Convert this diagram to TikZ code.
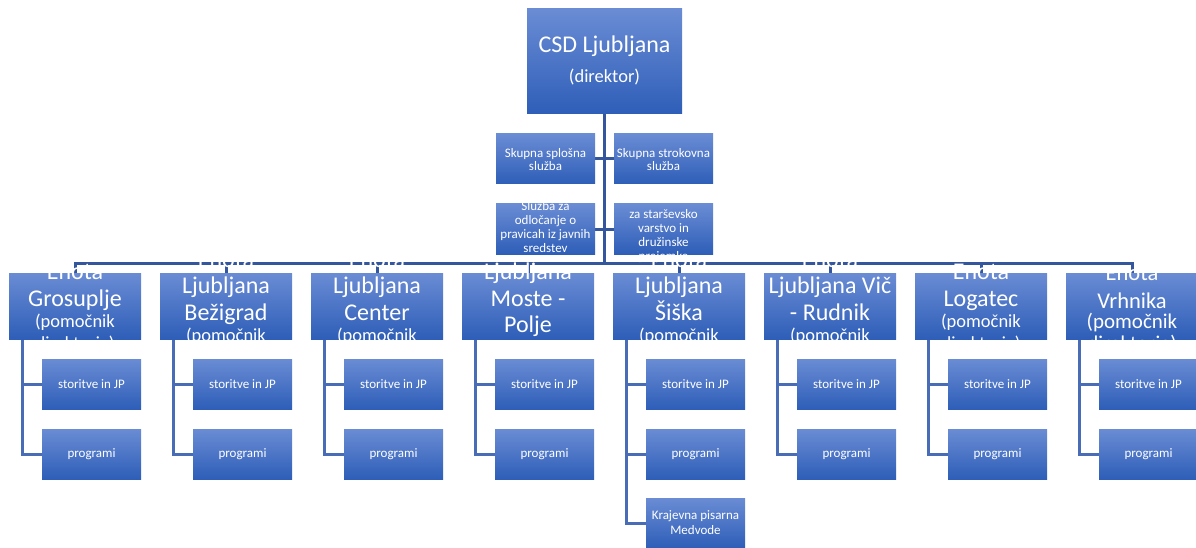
\documentclass[tikz,border=0pt]{standalone}
\usepackage{fontspec}
\setmainfont{Carlito}
\usetikzlibrary{backgrounds}

\definecolor{boxtop}{RGB}{106,140,212}
\definecolor{boxbot}{RGB}{46,94,184}
\definecolor{busblue}{RGB}{52,86,156}
\definecolor{subblue}{RGB}{72,108,182}

\newcommand{\pom}{\fontsize{18.5}{21}\selectfont}
\newcommand{\bigpom}{\fontsize{21}{24}\selectfont}

\begin{document}
\begin{tikzpicture}[x=1pt,y=-1pt,
    orgbox/.style={inner sep=0pt,top color=boxtop,bottom color=boxbot},
    topbox/.style={orgbox,minimum width=155pt,minimum height=105pt},
    staffbox/.style={orgbox,minimum width=99pt,minimum height=50pt},
    unitbox/.style={orgbox,minimum width=132pt,minimum height=66pt},
    subbox/.style={orgbox,minimum width=99pt,minimum height=50pt,text=white,align=center,
      font=\fontsize{13}{15}\selectfont},
    boxtext/.style={text=white,align=center,inner sep=0pt,anchor=base},
    toptext/.style={boxtext,font=\fontsize{24}{29}\selectfont},
    stafftext/.style={boxtext,font=\fontsize{13}{13.3}\selectfont},
    staffwrap/.style={boxtext,font=\fontsize{13}{14}\selectfont},
    unittext/.style={boxtext,font=\fontsize{24}{26.5}\selectfont},
    bigunittext/.style={boxtext,font=\fontsize{22.5}{28}\selectfont},
    busline/.style={draw=busblue,line width=3pt},
    subline/.style={draw=subblue,line width=3pt}]
  \useasboundingbox (0,0) rectangle (1196,548);

  % director
  \node[topbox] (top) at (604.5,61.5) {};
  \node[toptext] (topt) at (604.5,83) {CSD Ljubljana\\[1pt]{\fontsize{18.5}{22}\selectfont (direktor)}};
  \coordinate (bus) at (0,263);

  % units (text placed by its last baseline)
  \foreach \i/\by/\st/\txt in {
      1/349/unittext/{Enota\\Grosuplje\\[-5pt]\pom(pomočnik\\[-5pt]\pom direktorja)},
      2/363/unittext/{Enota\\Ljubljana\\Bežigrad\\[-5pt]\pom(pomočnik\\[-5pt]\pom direktorja)},
      3/363/unittext/{Enota\\Ljubljana\\Center\\[-5pt]\pom(pomočnik\\[-5pt]\pom direktorja)},
      4/375.5/unittext/{Enota\\Ljubljana\\Moste -\\Polje\\[-5pt]\pom(pomočnik\\[-5pt]\pom direktorja)},
      5/363/unittext/{Enota\\Ljubljana\\Šiška\\[-5pt]\pom(pomočnik\\[-5pt]\pom direktorja)},
      6/363/unittext/{Enota\\Ljubljana Vič\\- Rudnik\\[-5pt]\pom(pomočnik\\[-5pt]\pom direktorja)},
      7/349/unittext/{Enota\\Logatec\\[-5pt]\pom(pomočnik\\[-5pt]\pom direktorja)},
      8/350/bigunittext/{Enota\\Vrhnika\\[-8pt]\bigpom(pomočnik\\[-6pt]\bigpom direktorja)}} {
    \node[unitbox] (u\i) at ({75+151*(\i-1)},306) {};
    \node[\st] (ut\i) at ({75+151*(\i-1)},\by) {\txt};
  }

  % staff services
  \node[staffbox] (ss1) at (545.5,159) {};
  \node[stafftext] (sst1) at (545.5,170.5) {Skupna splošna\\služba};
  \node[staffbox] (ss2) at (663.5,159) {};
  \node[stafftext] (sst2) at (663.5,170.5) {Skupna strokovna\\služba};
  \node[staffbox] (sv1) at (545.5,229) {};
  \node[staffwrap] (svt1) at (545.5,252) {Služba za\\odločanje o\\pravicah iz javnih\\sredstev};
  \node[staffbox] (sv2) at (663.5,229) {};
  \node[staffwrap] (svt2) at (663.5,260) {za starševsko\\varstvo in\\družinske\\prejemke};

  % sub services
  \foreach \i in {1,...,8} {
    \node[subbox] (sa\i) at ([xshift=16.5pt,yshift=-78pt]u\i.center) {storitve in JP};
    \node[subbox] (sb\i) at ([xshift=16.5pt,yshift=-148pt]u\i.center) {programi};
  }
  \node[subbox] (sc5) at ([xshift=16.5pt,yshift=-217pt]u5.center) {Krajevna pisarna\\Medvode};

  \begin{scope}[on background layer]
    \draw[busline] (top.south) -- (top.south |- bus);
    \draw[busline] (u1.north) -- (u1.north |- bus) -| (u8.north);
    \foreach \i in {2,...,7}
      \draw[busline] (u\i.north) -- (u\i.north |- bus);
    \draw[busline] (ss1.east) -- (ss2.west);
    \draw[busline] (sv1.east) -- (sv2.west);
    \foreach \i in {1,2,3,4,6,7,8} {
      \draw[subline] ([xshift=14pt]u\i.south west) |- (sb\i.west);
      \draw[subline] ([xshift=14pt]u\i.south west |- sa\i.west) -- (sa\i.west);
    }
    \draw[subline] ([xshift=14pt]u5.south west) |- (sc5.west);
    \draw[subline] ([xshift=14pt]u5.south west |- sa5.west) -- (sa5.west);
    \draw[subline] ([xshift=14pt]u5.south west |- sb5.west) -- (sb5.west);
  \end{scope}
\end{tikzpicture}
\end{document}
